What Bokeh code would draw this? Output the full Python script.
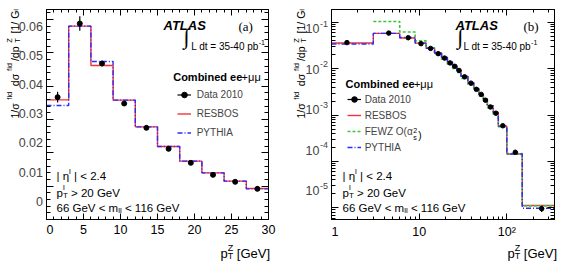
import numpy as np
from bokeh.plotting import figure
from bokeh.layouts import row, column
from bokeh.models import (Range1d, FixedTicker, LinearAxis, LogAxis, Label,
                          Legend, LegendItem, CustomJSTickFormatter)
from bokeh.embed import file_html
from bokeh.resources import INLINE

# ---- Z boson pT spectrum, normalised to the fiducial cross section [1/GeV] ----
PT_EDGES = [0, 3, 6, 9, 12, 15, 18, 21, 24, 27, 30, 36, 42, 48, 54, 60, 70, 80, 100, 150, 350]
DATA_2010 = [0.0367, 0.0588, 0.0468, 0.0348, 0.0275, 0.0212, 0.0170, 0.0134, 0.0113, 0.0092,
             0.0067, 0.0049, 0.0036, 0.0028, 0.0021, 0.0015, 0.0011, 0.00059, 0.000158, 0.0000096]
DATA_ERR = [0.0016, 0.0022, 0.0008, 0.0005, 0.0003, 0.0003, 0.0003, 0.0003, 0.0002, 0.0002,
            0.00012, 0.0001, 0.00008, 0.00006, 0.00005, 0.00004, 0.00003, 0.00002, 0.00001, 0.0000015]
RESBOS = [0.0359, 0.0580, 0.0462, 0.0358, 0.0278, 0.0219, 0.0175, 0.0140, 0.0115, 0.0093,
          0.0069, 0.0050, 0.0037, 0.0028, 0.0022, 0.0016, 0.00115, 0.00058, 0.000145, 0.0000112]
PYTHIA = [0.0342, 0.0580, 0.0474, 0.0358, 0.0278, 0.0219, 0.0175, 0.0140, 0.0115, 0.0092,
          0.0069, 0.0050, 0.0037, 0.0028, 0.0022, 0.0016, 0.00115, 0.00058, 0.000145, 0.0000098]
FEWZ = [np.nan, 0.105, 0.062, 0.040, 0.0285, 0.0205, 0.0160, 0.0125, 0.0102, 0.0083,
        0.0062, 0.0045, 0.0034, 0.0026, 0.0020, 0.00145, 0.00105, 0.00056, 0.000148, 0.0000110]
N_LOW = 10  # panel (a) shows the 3 GeV bins up to 30 GeV

A_X_TICKS = [0, 5, 10, 15, 20, 25, 30]
A_Y_TICKS = [0.0, 0.01, 0.02, 0.03, 0.04, 0.05, 0.06]
A_Y_LABELS = ["0", "0.01", "0.02", "0.03", "0.04", "0.05", "0.06"]
A_Y_RANGE = (0, 0.063)
B_X_TICKS = [1, 10, 100]
B_Y_TICKS = [1e-5, 1e-4, 1e-3, 1e-2, 1e-1]
B_Y_LABELS = [("10", "-5"), ("10", "-4"), ("10", "-3"), ("10", "-2"), ("10", "-1")]
B_X_RANGE = (1, 350)
B_Y_RANGE = (5.6e-6, 0.19)

FONT = "Liberation Sans"
TICK_FONT = "12.5px"
RED, BLUE, GREEN = "#f0343c", "#2b2bff", "#38c838"

# approximate advance widths (em) used to chain rich-text pieces
CW = {' ': .278, '(': .333, ')': .333, '+': .584, '-': .333, '.': .278, '/': .278, '<': .584,
      '=': .584, '>': .584, '[': .278, ']': .278, '|': .26, 'A': .667, 'B': .667, 'C': .722,
      'D': .722, 'E': .667, 'F': .611, 'G': .778, 'I': .278, 'L': .556, 'O': .778, 'P': .667,
      'R': .722, 'S': .667, 'T': .611, 'V': .667, 'W': .944, 'Y': .667, 'Z': .611, 'f': .278,
      'i': .222, 'l': .222, 'm': .833, 's': .5, 't': .278, 'σ': .6, 'η': .556, 'α': .578, 'μ': .576}

# frame geometry shared by both panels (page pixels)
H_TOP, FRAME_TOP, FRAME_BOTTOM = 241, 9, 220


def text_w(s, size):
    return sum(CW.get(c, .556) for c in s) * size


def put(p, frame, s, x, y, size, align="left", baseline="alphabetic", font=FONT,
        style="normal", angle=0.0):
    # x, y in page pixels; frame = page position of the frame's left / bottom edge
    fl, fb = frame
    p.add_layout(Label(x=x - fl, y=fb - y, x_units="screen", y_units="screen", text=s,
                       text_font=font, text_font_size=f"{size}px", text_font_style=style,
                       text_align=align, text_baseline=baseline, angle=angle,
                       text_color="black"))


def rich(p, frame, pieces, x, y, vertical=False, stretch=1.0):
    # pieces: (text, size, rise, advance); leading blanks become cursor moves
    cur = y if vertical else x
    sign = -1 if vertical else 1
    for s, size, rise, adv in pieces:
        body = s.lstrip(" ")
        cur += sign * (len(s) - len(body)) * CW[' '] * size * stretch
        if vertical:
            put(p, frame, body, x - rise, cur, size, angle=np.pi / 2)
        else:
            put(p, frame, body, cur, y - rise, size)
        if adv:
            cur += sign * text_w(body, size) * stretch


Y_TITLE = [("1/σ", 10.5, 0, True), ("fid", 7.5, 4.6, True), (" dσ", 10.5, 0, True),
           ("fid", 7.5, 4.6, True), ("/dp", 10.5, 0, True), ("Z", 7.5, 4.6, False),
           ("T", 7.5, -2.5, True), (" [1/", 10.5, 0, True), ("GeV]", 10.5, 0, True)]
X_TITLE = [("p", 13, 0, True), ("Z", 9, 5.5, False), ("T", 9, -3, True), (" [GeV]", 13, 0, True)]
CUTS = [[("| η", 11.5, 0, True), ("l", 8, 5, True), (" | < 2.4", 11.5, 0, True)],
        [("p", 11.5, 0, True), ("l", 8, 5, False), ("T", 8, -3, True), (" > 20 GeV", 11.5, 0, True)],
        [("66 GeV < m", 11.5, 0, True), ("ll", 8, -3, True), (" < 116 GeV", 11.5, 0, True)]]
CUT_BASELINES = [176.8, 193.4, 208]
Y_TITLE_START, Y_TITLE_STRETCH = 140, 1.25


def step_path(edges, vals):
    e = np.asarray(edges, float)
    return np.repeat(e, 2)[1:-1], np.repeat(np.asarray(vals, float), 2)


def strip(width, height, **kw):
    s = figure(width=width, height=height, output_backend="svg", toolbar_location=None,
               tools="", x_axis_location=None, y_axis_location=None,
               min_border=0, min_border_left=0, min_border_right=0, min_border_top=0,
               min_border_bottom=0, **kw)
    s.outline_line_color = None
    s.xgrid.visible = False
    s.ygrid.visible = False
    s.background_fill_color = "white"
    s.border_fill_color = "white"
    return s


def side_range(lo, hi, log=False):
    # value range of a full-height side strip that lines up with a panel frame
    a, b = (np.log10(lo), np.log10(hi)) if log else (lo, hi)
    per_px = (b - a) / (FRAME_BOTTOM - FRAME_TOP)
    a2, b2 = a - (H_TOP - FRAME_BOTTOM) * per_px, b + FRAME_TOP * per_px
    return Range1d(10 ** a2, 10 ** b2) if log else Range1d(a2, b2)


def frame_axes(p, xcls, ycls, xt, xm, yt, ym):
    p.add_layout(xcls(), "above")
    p.add_layout(ycls(), "right")
    for ax in list(p.xaxis) + list(p.yaxis):
        is_x = ax in p.xaxis
        ax.ticker = FixedTicker(ticks=xt if is_x else yt, minor_ticks=xm if is_x else ym)
        ax.major_tick_in = 6 if is_x else 7
        ax.minor_tick_in = 3 if is_x else 4
        ax.major_tick_out = 0
        ax.minor_tick_out = 0
        ax.axis_line_color = "black"
        ax.major_tick_line_color = "black"
        ax.minor_tick_line_color = "black"
        ax.major_label_text_font = FONT
        ax.major_label_text_font_size = TICK_FONT
        ax.major_label_text_color = "black"
    # y labels live in the side strip; mirrored axes carry ticks only
    for ax in [p.above[0], p.right[0], p.left[0]]:
        ax.formatter = CustomJSTickFormatter(code="return ''")
        ax.major_label_text_font_size = "0px"
        ax.major_label_standoff = 0
    p.below[0].major_label_standoff = 5
    p.xgrid.visible = False
    p.ygrid.visible = False
    p.outline_line_color = "black"
    p.background_fill_color = "white"
    p.border_fill_color = "white"


# ---------------- panel (a): linear scale, 0-30 GeV ----------------
FA = (46, FRAME_BOTTOM)
pa = figure(width=238, height=H_TOP, x_range=Range1d(0, 30), y_range=Range1d(*A_Y_RANGE),
            output_backend="svg", toolbar_location=None, tools="",
            min_border_left=0, min_border_right=16, min_border_top=FRAME_TOP,
            min_border_bottom=H_TOP - FRAME_BOTTOM)
frame_axes(pa, LinearAxis, LinearAxis, A_X_TICKS, list(range(0, 31)),
           A_Y_TICKS, [round(0.002 * i, 3) for i in range(0, 32)])

ea = PT_EDGES[:N_LOW + 1]
xs, ys = step_path(ea, RESBOS[:N_LOW])
ra = pa.line(xs, ys, line_color=RED, line_width=1.4)
xs, ys = step_path(ea, PYTHIA[:N_LOW])
pya = pa.line(xs, ys, line_color=BLUE, line_width=1.4, line_dash="5 2 1 2")
ca = [(ea[i] + ea[i + 1]) / 2 for i in range(N_LOW)]
da = np.asarray(DATA_2010[:N_LOW])
ua = np.asarray(DATA_ERR[:N_LOW])
sa_ = pa.segment(ca, da - ua, ca, da + ua, line_color="black", line_width=1.2)
ma = pa.scatter(ca, da, size=5, marker="circle", color="black")

pa.add_layout(Legend(items=[LegendItem(label="Data 2010", renderers=[sa_, ma]),
                            LegendItem(label="RESBOS", renderers=[ra]),
                            LegendItem(label="PYTHIA", renderers=[pya])],
                     location=(130.7, 77.5), padding=0, margin=0, spacing=0,
                     label_height=19, glyph_height=19, glyph_width=14, label_standoff=6,
                     label_text_font=FONT, label_text_font_size="10px",
                     label_text_baseline="middle",
                     background_fill_alpha=0, border_line_alpha=0))

for k, line in enumerate(CUTS):
    rich(pa, FA, line, 56, CUT_BASELINES[k])
put(pa, FA, "ATLAS", 163, 26.3, 13, style="bold italic")
put(pa, FA, "(a)", 238, 26.5, 13, font="Liberation Serif")
put(pa, FA, "∫", 183, 37, 22, baseline="middle", font="Liberation Serif")
put(pa, FA, "L dt = 35-40 pb", 190.7, 46.6, 10)
put(pa, FA, "-1", 190.7 + text_w("L dt = 35-40 pb", 10), 42.6, 7)
put(pa, FA, "Combined ee", 172.7, 77, 11, style="bold")
put(pa, FA, "+μμ", 172.7 + text_w("Combined ee", 11) + 3, 77, 11)

# y title and tick labels of panel (a)
ta = strip(46, H_TOP, x_range=Range1d(0, 1), y_range=side_range(*A_Y_RANGE))
rich(ta, (0, H_TOP), Y_TITLE, 14, Y_TITLE_START, vertical=True, stretch=Y_TITLE_STRETCH)
for t, lab in zip(A_Y_TICKS, A_Y_LABELS):
    ta.add_layout(Label(x=42.5, y=t, x_units="screen", y_units="data", text=lab,
                        text_font=FONT, text_font_size=TICK_FONT, text_align="right",
                        text_baseline="middle"))

# ---------------- panel (b): log-log, full range ----------------
FB = (331, FRAME_BOTTOM)
pb = figure(width=231, height=H_TOP, x_axis_type="log", y_axis_type="log",
            x_range=Range1d(*B_X_RANGE), y_range=Range1d(*B_Y_RANGE),
            output_backend="svg", toolbar_location=None, tools="",
            min_border_left=0, min_border_right=8, min_border_top=FRAME_TOP,
            min_border_bottom=H_TOP - FRAME_BOTTOM)
xminor = [m * 10 ** d for d in range(0, 3) for m in range(2, 10) if m * 10 ** d < 350]
yminor = [m * 10.0 ** d for d in range(-6, 0) for m in range(2, 10)]
frame_axes(pb, LogAxis, LogAxis, B_X_TICKS, xminor, B_Y_TICKS, yminor)
pb.below[0].formatter = CustomJSTickFormatter(
    code="return tick >= 100 ? '10\u00b2' : tick.toFixed(0)")

eb = np.clip(np.asarray(PT_EDGES, float), B_X_RANGE[0], None)
xs, ys = step_path(eb, RESBOS)
rb = pb.line(xs, ys, line_color=RED, line_width=1.4)
xs, ys = step_path(eb, FEWZ)
fb = pb.line(xs, ys, line_color=GREEN, line_width=1.6, line_dash="3 2")
xs, ys = step_path(eb, PYTHIA)
pyb = pb.line(xs, ys, line_color=BLUE, line_width=1.4, line_dash="5 2 1 2")
cb = [(PT_EDGES[i] + PT_EDGES[i + 1]) / 2 for i in range(len(DATA_2010))]
db = np.asarray(DATA_2010)
ub = np.asarray(DATA_ERR)
sb_ = pb.segment(cb, db - ub, cb, db + ub, line_color="black", line_width=1.2)
mb = pb.scatter(cb, db, size=4.5, marker="circle", color="black")

pb.add_layout(Legend(items=[LegendItem(label="Data 2010", renderers=[sb_, mb]),
                            LegendItem(label="RESBOS", renderers=[rb]),
                            LegendItem(label="FEWZ O(α", renderers=[fb]),
                            LegendItem(label="PYTHIA", renderers=[pyb])],
                     location=(15.7, 64), padding=0, margin=0, spacing=0,
                     label_height=16, glyph_height=16, glyph_width=14, label_standoff=4,
                     label_text_font=FONT, label_text_font_size="10px",
                     label_text_baseline="middle",
                     background_fill_alpha=0, border_line_alpha=0))
fx = 331 + 15.7 + 14 + 4 + text_w("FEWZ O(α", 10)
put(pb, FB, "2", fx, 131, 7)
put(pb, FB, "s", fx, 138, 7)
put(pb, FB, ")", fx + 5, 135.5, 10)

for k, line in enumerate(CUTS):
    rich(pb, FB, line, 342, CUT_BASELINES[k])
put(pb, FB, "ATLAS", 455, 26.3, 13, style="bold italic")
put(pb, FB, "(b)", 523, 26.5, 13, font="Liberation Serif")
put(pb, FB, "∫", 456.7, 37, 22, baseline="middle", font="Liberation Serif")
put(pb, FB, "L dt = 35-40 pb", 463, 46.6, 10)
put(pb, FB, "-1", 463 + text_w("L dt = 35-40 pb", 10), 42.6, 7)
put(pb, FB, "Combined ee", 345, 84.5, 11, style="bold")
put(pb, FB, "+μμ", 345 + text_w("Combined ee", 11) + 3, 84.5, 11)

# y title and log tick labels of panel (b): strip sharing the log y scale
tb = strip(47, H_TOP, x_range=Range1d(0, 1), y_axis_type="log",
           y_range=side_range(*B_Y_RANGE, log=True))
rich(tb, (284, H_TOP), Y_TITLE, 300.7, Y_TITLE_START, vertical=True, stretch=Y_TITLE_STRETCH)
for t, (base, ex) in zip(B_Y_TICKS, B_Y_LABELS):
    tb.add_layout(Label(x=35, y=t, x_units="screen", y_units="data", text=base,
                        text_font=FONT, text_font_size=TICK_FONT, text_align="right",
                        text_baseline="middle"))
    tb.add_layout(Label(x=35.5, y=t, x_units="screen", y_units="data", text=ex, y_offset=5,
                        text_font=FONT, text_font_size="9px", text_align="left",
                        text_baseline="middle"))

# x titles
tx = strip(562, 261 - H_TOP, x_range=Range1d(0, 1), y_range=Range1d(0, 1))
rich(tx, (0, 261), X_TITLE, 220, 252.5)
rich(tx, (0, 261), X_TITLE, 507, 252.5)

layout = column(row(ta, pa, tb, pb), tx)
open("out.html", "w").write(file_html(layout, INLINE))
